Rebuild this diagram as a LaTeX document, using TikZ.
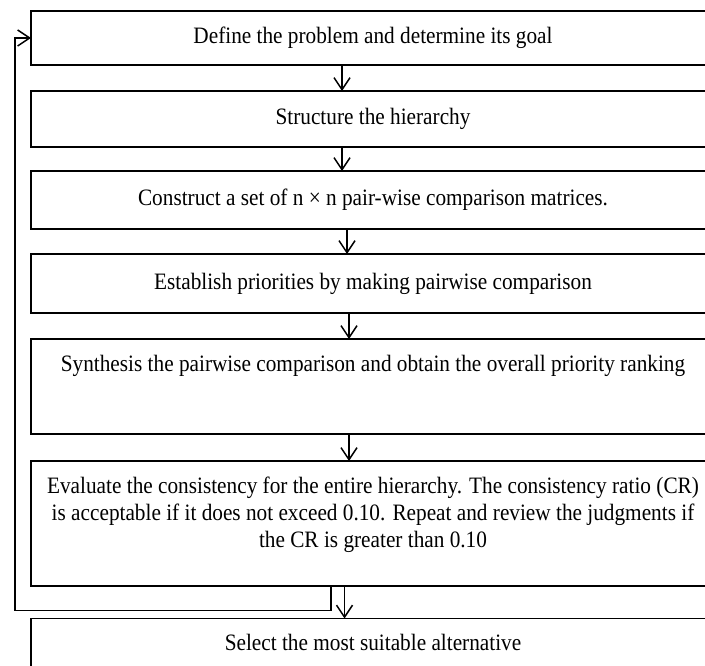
\documentclass[tikz,border=0pt]{standalone}
\usepackage{fontspec}
\setmainfont{Liberation Serif}[FakeStretch=0.905]
\usetikzlibrary{arrows.meta}

\tikzset{
  stage/.style={draw, line width=1.5pt, outer sep=0pt, inner sep=0pt,
    minimum width=684pt, anchor=north west,
    font=\fontsize{23.5}{27}\selectfont},
  note/.style={inner sep=0pt, align=center,
    font=\fontsize{23.5}{27}\selectfont},
  flow/.style={line width=1.5pt, -{Straight Barb[length=12pt, width=16pt]}},
}

\begin{document}
\begin{tikzpicture}[x=1pt, y=-1pt]

    \clip (0,0) rectangle (705,666);

    % The steps, top to bottom
    \node[stage, minimum height=54pt] (goal) at (31,11)
        {Define the problem and determine its goal};
    \node[stage, minimum height=56pt] (hierarchy) at (31,91)
        {Structure the hierarchy};
    \node[stage, minimum height=58pt] (matrices) at (31,171)
        {Construct a set of n × n pair-wise comparison matrices.};
    \node[stage, minimum height=59pt] (priorities) at (31,254)
        {Establish priorities by making pairwise comparison};
    \node[stage, minimum height=95pt] (synthesis) at (31,339) {};
    \node[stage, minimum height=125pt] (consistency) at (31,461) {};
    \node[stage, minimum height=80pt] (select) at (31,618.5) {};

    % Texts of the taller boxes, near their tops
    \node[note, anchor=base] (synthesis-text) at ([yshift=-32pt]synthesis.north)
        {Synthesis the pairwise comparison and obtain the overall priority ranking};
    \node[note, anchor=north] (consistency-text) at ([yshift=-16pt]consistency.north)
        {Evaluate the consistency for the entire hierarchy. The consistency ratio (CR)\\
         is acceptable if it does not exceed 0.10. Repeat and review the judgments if\\
         the CR is greater than 0.10};
    \node[note, anchor=base] (select-text) at ([yshift=-32pt]select.north)
        {Select the most suitable alternative};

    % Arrows between the steps
    \draw[flow] ([xshift=-31pt]goal.south) -- ([xshift=-31pt]hierarchy.north);
    \draw[flow] ([xshift=-31pt]hierarchy.south) -- ([xshift=-31pt]matrices.north);
    \draw[flow] ([xshift=-26pt]matrices.south) -- ([xshift=-26pt]priorities.north);
    \draw[flow] ([xshift=-24pt]priorities.south) -- ([xshift=-24pt]synthesis.north);
    \draw[flow] ([xshift=-24pt]synthesis.south) -- ([xshift=-24pt]consistency.north);
    \draw[flow] ([xshift=-28.5pt]consistency.south) -- ([xshift=-28.5pt]select.north);

    % Feedback loop back to the first step
    \coordinate (loop) at (15,610.5);
    \draw[flow] ([xshift=-42pt]consistency.south) |- (loop) |- (goal.west);

\end{tikzpicture}
\end{document}
